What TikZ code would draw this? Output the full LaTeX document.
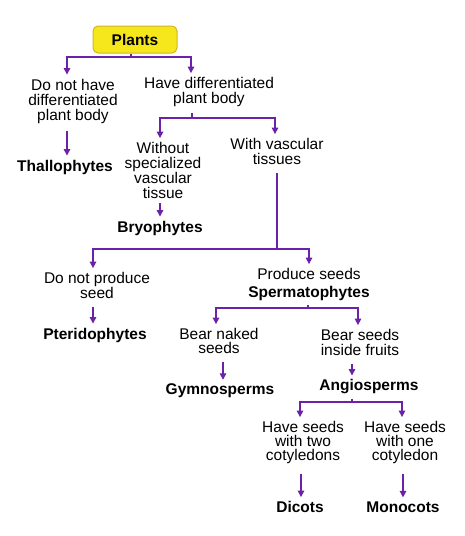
\documentclass[tikz,border=0pt]{standalone}
\usepackage{fontspec}
\setmainfont{Liberation Sans}
\usetikzlibrary{arrows.meta}
\definecolor{linepurple}{HTML}{6B21A8}
\definecolor{boxyellow}{HTML}{F6E61C}
\definecolor{boxedge}{HTML}{CDB628}

\begin{document}
\begin{tikzpicture}[x=1pt,y=-1pt]

    \tikzset{txt/.style={align=center,inner sep=0pt,font=\fontsize{15.5}{15}\selectfont},
             txttight/.style={txt,font=\fontsize{15.5}{14}\selectfont},
             grp/.style={inner sep=0pt,font=\fontsize{15.5}{15}\selectfont\bfseries},
             rootbox/.style={draw=boxedge,fill=boxyellow,rounded corners=5pt,line width=1pt,
                             minimum width=84pt,minimum height=27pt,inner sep=0pt,
                             font=\fontsize{15.5}{15}\selectfont\bfseries}}
    \useasboundingbox (0,0) rectangle (464,536);

    \node[rootbox] (plants) at (135,39.5) {Plants};

    \node[txt] (nodiff) at (73,101) {Do not have\\differentiated\\plant body};
    \node[txt] (diff) at (209,92) {Have differentiated\\plant body};
    \node[grp] (thallo) at (65,167) {Thallophytes};

    \node[txt] (novasc) at (163,170.5) {Without\\specialized\\vascular\\tissue};
    \node[txt] (vasc) at (277,151.5) {With vascular\\tissues};
    \node[grp] (bryo) at (160,228) {Bryophytes};

    \node[txt] (noseed) at (97,285.5) {Do not produce\\seed};
    \node[grp] (pterido) at (95,335) {Pteridophytes};
    \node[txt] (seeds) at (309,274) {Produce seeds};
    \node[grp] (sperma) at (309,293) {Spermatophytes};

    \node[txttight] (naked) at (219,341) {Bear naked\\seeds};
    \node[txt] (fruits) at (360,342.5) {Bear seeds\\inside fruits};
    \node[grp] (gymno) at (220,391) {Gymnosperms};
    \node[grp] (angio) at (369,387) {Angiosperms};

    \node[txttight] (twocot) at (303,442.5) {Have seeds\\with two\\cotyledons};
    \node[txttight] (onecot) at (405,442.5) {Have seeds\\with one\\cotyledon};
    \node[grp] (dicots) at (300,507) {Dicots};
    \node[grp] (monocots) at (403,507) {Monocots};

    \coordinate (f1) at (131,57);
    \coordinate (f2) at (192,118);
    \coordinate (f3) at (277,249);
    \coordinate (f4) at (308,308);
    \coordinate (f5) at (352,402);

    \begin{scope}[every path/.style={draw=linepurple,line width=1.4pt},
                  arr/.style={-{Triangle[length=6.5pt,width=6.5pt]},shorten >=4pt}]
        % forks
        \draw (plants.south -| f1) -- (f1);
        \draw[arr] (f1) -| ([xshift=-6pt]nodiff.north);
        \draw[arr] (f1) -| ([xshift=-18pt]diff.north);

        \draw[shorten <=6pt] (diff.south -| f2) -- (f2);
        \draw[arr] (f2) -| ([xshift=-3pt]novasc.north);
        \draw[arr] (f2) -| ([xshift=-2pt]vasc.north);

        \draw[shorten <=8pt] (vasc.south) -- (f3);
        \draw[arr] (f3) -| ([xshift=-4pt]noseed.north);
        \draw[arr] (f3) -| (seeds.north);

        \draw[shorten <=5pt] (sperma.south -| f4) -- (f4);
        \draw[arr] (f4) -| ([xshift=-3pt]naked.north);
        \draw[arr] (f4) -| ([xshift=-2pt]fruits.north);

        \draw[shorten <=5pt] (angio.south -| f5) -- (f5);
        \draw[arr] (f5) -| ([xshift=-3pt]twocot.north);
        \draw[arr] (f5) -| ([xshift=-3pt]onecot.north);

        % single steps
        \draw[arr,shorten <=8pt] ([xshift=-6pt]nodiff.south) -- ([xshift=2pt]thallo.north);
        \draw[arr,shorten <=4pt] ([xshift=-3pt]novasc.south) -- (bryo.north);
        \draw[arr,shorten <=8pt] ([xshift=-4pt]noseed.south) -- ([xshift=-2pt]pterido.north);
        \draw[arr,shorten <=8pt] ([xshift=4pt]naked.south) -- ([xshift=3pt]gymno.north);
        \draw[arr,shorten <=8pt] ([xshift=-8pt]fruits.south) -- ([xshift=-17pt]angio.north);
        \draw[arr,shorten <=10pt] ([xshift=-2pt]twocot.south) -- ([xshift=1pt]dicots.north);
        \draw[arr,shorten <=10pt] ([xshift=-2pt]onecot.south) -- (monocots.north);
    \end{scope}

\end{tikzpicture}
\end{document}
